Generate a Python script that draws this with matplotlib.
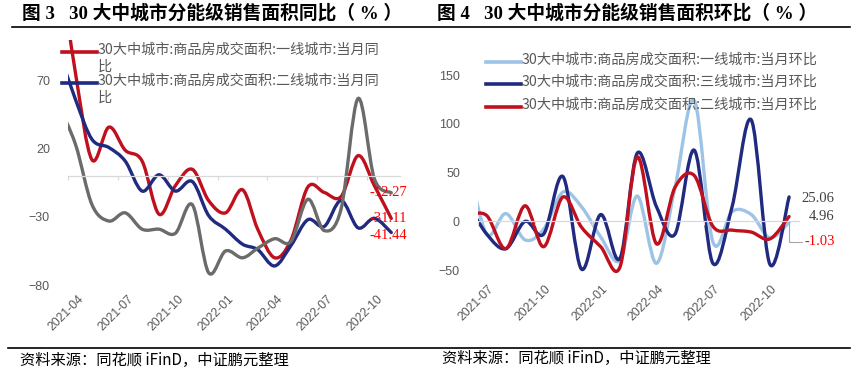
import matplotlib
matplotlib.use("Agg")
import matplotlib.pyplot as plt
import matplotlib.dates as mdates
import matplotlib.transforms as mtransforms
from matplotlib.path import Path
from matplotlib.patches import PathPatch
from matplotlib.lines import Line2D
import pandas as pd

plt.rcParams['font.family'] = ['Noto Sans CJK SC', 'DejaVu Sans']

# ---- data: figure 3, year-on-year (%), monthly 2021-03 .. 2022-11
yoy_months = pd.date_range("2021-03-01", periods=21, freq="MS") + pd.Timedelta(days=14)
yoy_tier1 = [160, 75, 12, 36, 19, 11, -28, -7, 5, -18, -27, -10, -39, -60, -47,
             -8, -12, -15, 15, -7, -31.11]
yoy_tier2 = [92, 56, 27, 21, 11, -11, 1, -11, -4, -29, -39, -50, -54, -66, -51,
             -32, -37, -18, -38, -31, -41.44]
yoy_tier3 = [52, 23, -21, -33, -27, -39, -39, -42, -21, -71, -55, -60, -53, -46, -48,
             -17, -40, -24, 57, -2, -12.27]
yoy_names = ["30大中城市:商品房成交面积:一线城市:当月同\n比",
             "30大中城市:商品房成交面积:二线城市:当月同\n比"]
yoy_ticks = ["2021-04-01", "2021-07-01", "2021-10-01", "2022-01-01",
             "2022-04-01", "2022-07-01", "2022-10-01"]

# ---- data: figure 4, month-on-month (%), monthly 2021-06 .. 2022-11
mom_months = pd.date_range("2021-06-01", periods=18, freq="MS") + pd.Timedelta(days=14)
mom_tier1 = [60, -13, 8, -19, -8, 30, 15, -16, -40, 26, -43, 35, 124, -21, 10, 7,
             -17, -1.03]
mom_tier3 = [18, -13, -28, 0, -13, 46, -49, 7, -38, 70, 15, -13, 73, -43, 15, 104,
             -44, 25.06]
mom_tier2 = [6, 6, -28, 16, -26, 25, -6, -26, -47, 66, -23, 35, 47, -5, -9, -11,
             -18, 4.96]
mom_names = ["30大中城市:商品房成交面积:一线城市:当月环比",
             "30大中城市:商品房成交面积:三线城市:当月环比",
             "30大中城市:商品房成交面积:二线城市:当月环比"]
mom_ticks = ["2021-07-01", "2021-10-01", "2022-01-01", "2022-04-01",
             "2022-07-01", "2022-10-01"]

RED = "#C0101E"
NAVY = "#1F2A80"
GRAY = "#6B6B6B"
LIGHT = "#9DC3E6"
TXT = "#595959"

W, H = 856, 371


def smooth_line(ax, dates, values, color, lw=2.4):
    # Excel-like smoothed line: Catmull-Rom segments as cubic Bezier curves
    xs = list(mdates.date2num(pd.to_datetime(dates)))
    ys = list(values)
    n = len(xs)
    verts = [(xs[0], ys[0])]
    codes = [Path.MOVETO]
    for i in range(n - 1):
        x0, y0 = (xs[i - 1], ys[i - 1]) if i > 0 else (xs[i], ys[i])
        x1, y1 = xs[i], ys[i]
        x2, y2 = xs[i + 1], ys[i + 1]
        x3, y3 = (xs[i + 2], ys[i + 2]) if i + 2 < n else (x2, y2)
        verts += [(x1 + (x2 - x0) / 6, y1 + (y2 - y0) / 6),
                  (x2 - (x3 - x1) / 6, y2 - (y3 - y1) / 6),
                  (x2, y2)]
        codes += [Path.CURVE4] * 3
    ax.add_patch(PathPatch(Path(verts, codes), facecolor="none", edgecolor=color,
                           lw=lw, capstyle="round", joinstyle="round"))


def style_axis(ax, start, end, ylim, yticks, ticks):
    ax.set_xlim(mdates.date2num(pd.Timestamp(start)), mdates.date2num(pd.Timestamp(end)))
    ax.set_ylim(*ylim)
    for s in ["top", "right", "left"]:
        ax.spines[s].set_visible(False)
    ax.spines["bottom"].set_position(("data", 0))
    ax.spines["bottom"].set_color("#D9D9D9")
    ax.spines["bottom"].set_linewidth(0.9)
    ax.set_yticks(yticks)
    ax.tick_params(axis="y", length=0, pad=13, labelsize=9, labelcolor=TXT)
    tick_pos = mdates.date2num(pd.to_datetime(ticks))
    ax.set_xticks(tick_pos)
    ax.tick_params(axis="x", direction="out", length=3, color="#D9D9D9",
                   labelbottom=False)
    for lab in ax.get_yticklabels():
        lab.set_family("Liberation Sans")
    trans = mtransforms.offset_copy(
        mtransforms.blended_transform_factory(ax.transData, ax.transAxes),
        fig=ax.figure, x=10, y=-8, units="dots")
    for p, t in zip(tick_pos, ticks):
        ax.text(p, 0, t[:7], transform=trans, rotation=45, ha="right", va="top",
                rotation_mode="anchor", fontsize=8.8, color=TXT,
                family="Liberation Sans")


def legend_entry(fig, x0, y, color, text):
    fig.add_artist(Line2D([x0 / W, (x0 + 35) / W], [1 - y / H, 1 - y / H],
                          color=color, lw=2.6))
    fig.text((x0 + 36) / W, 1 - (y - 9) / H, text, fontsize=10.2, color=TXT,
             va="top", ha="left", linespacing=1.25)


fig = plt.figure(figsize=(W / 100, H / 100), dpi=100)

# ---------------- left chart
ax1 = fig.add_axes([68 / W, 1 - 285 / H, (400 - 68) / W, (285 - 40) / H])
style_axis(ax1, "2021-04-01", "2022-12-01", (-80, 100), [-80, -30, 20, 70], yoy_ticks)
smooth_line(ax1, yoy_months, yoy_tier1, RED)
smooth_line(ax1, yoy_months, yoy_tier2, NAVY)
smooth_line(ax1, yoy_months, yoy_tier3, GRAY)
legend_entry(fig, 62, 52, RED, yoy_names[0])
legend_entry(fig, 62, 83, NAVY, yoy_names[1])
for v, dy in [(yoy_tier3[-1], 0), (yoy_tier1[-1], 0), (yoy_tier2[-1], 2)]:
    ax1.annotate(f"{v:.2f}", xy=(mdates.date2num(yoy_months[-1]), v),
                 xytext=(-16, -dy), textcoords="offset points", ha="left", va="center",
                 color="#FF0000", fontsize=10.5, family="Liberation Serif",
                 annotation_clip=False)

# ---------------- right chart
ax2 = fig.add_axes([478 / W, 1 - 275 / H, (799 - 478) / W, (275 - 40) / H])
style_axis(ax2, "2021-07-01", "2022-12-01", (-55, 186), [-50, 0, 50, 100, 150], mom_ticks)
smooth_line(ax2, mom_months, mom_tier1, LIGHT)
smooth_line(ax2, mom_months, mom_tier3, NAVY)
smooth_line(ax2, mom_months, mom_tier2, RED)
legend_entry(fig, 486, 62, LIGHT, mom_names[0])
legend_entry(fig, 486, 84, NAVY, mom_names[1])
legend_entry(fig, 486, 107, RED, mom_names[2])
xe = mdates.date2num(mom_months[-1])
ax2.annotate(f"{mom_tier3[-1]:.2f}", xy=(xe, mom_tier3[-1]), xytext=(9, -1),
             textcoords="offset points", ha="left", va="center", color="#404040",
             fontsize=10.5, family="Liberation Serif", annotation_clip=False)
ax2.annotate(f"{mom_tier2[-1]:.2f}", xy=(xe, mom_tier2[-1]), xytext=(14, 0),
             textcoords="offset points", ha="left", va="center", color="#404040",
             fontsize=10.5, family="Liberation Serif", annotation_clip=False)
ax2.annotate(f"{mom_tier1[-1]:.2f}", xy=(xe, mom_tier1[-1]), xytext=(11, -14),
             textcoords="offset points", ha="left", va="center", color="#FF0000",
             fontsize=10.5, family="Liberation Serif", annotation_clip=False,
             arrowprops=dict(arrowstyle="-", color="#A6A6A6", lw=0.8,
                             connectionstyle="angle,angleA=0,angleB=90,rad=0",
                             shrinkA=0, shrinkB=0))

# ---------------- titles, rules and source
title_font = ["Liberation Serif", "Noto Sans CJK SC"]
fig.text(22 / W, 1 - 13 / H, "图 3   30 大中城市分能级销售面积同比（ % ）",
         fontsize=13.5, fontweight="bold", va="center", ha="left", family=title_font)
fig.text(437 / W, 1 - 13 / H, "图 4   30 大中城市分能级销售面积环比（ % ）",
         fontsize=13.5, fontweight="bold", va="center", ha="left", family=title_font)
fig.add_artist(Line2D([12 / W, 850 / W], [1 - 27 / H, 1 - 27 / H], color="black", lw=1.2))
fig.add_artist(Line2D([8 / W, 850 / W], [1 - 348 / H, 1 - 348 / H], color="black", lw=1.2))
fig.text(20 / W, 1 - 360 / H, "资料来源：同花顺 iFinD，中证鹏元整理", fontsize=11,
         va="center", ha="left")
fig.text(442 / W, 1 - 358 / H, "资料来源：同花顺 iFinD，中证鹏元整理", fontsize=11,
         va="center", ha="left")

fig.savefig("out.png", dpi=100)
plt.close(fig)
